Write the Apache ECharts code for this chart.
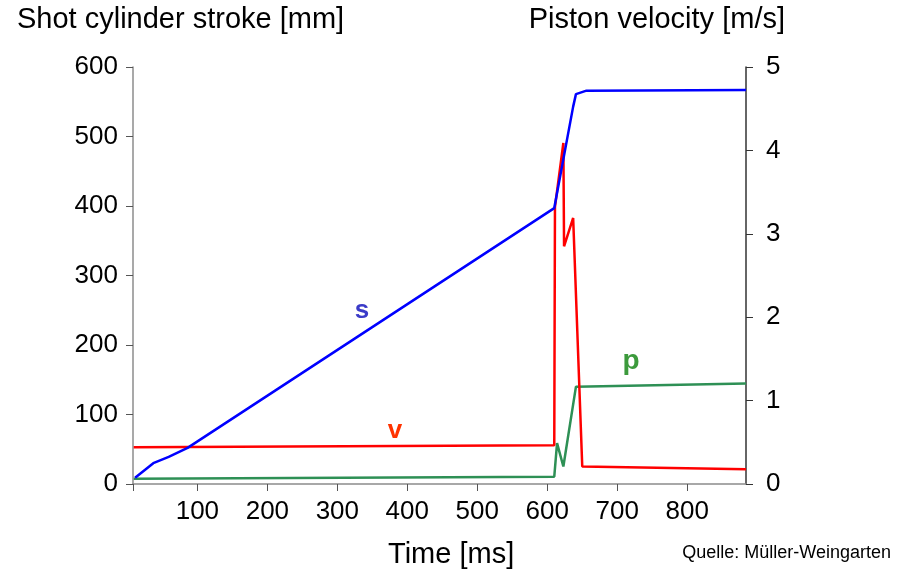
<!DOCTYPE html>
<html><head><meta charset="utf-8">
<script src="https://cdn.jsdelivr.net/npm/echarts@6/dist/echarts.min.js"></script>
<style>html,body{margin:0;padding:0;background:#fff}#c{width:906px;height:572px}</style>
</head><body><div id="c"></div>
<script>
// Stroke s [mm] (left axis)
const sTime   = [11, 37, 59, 86, 610, 637, 641, 656, 884];
const sValues = [9, 30, 39, 52, 397, 543, 561, 566, 567];
// Piston velocity v [m/s] (right axis)
const vTime   = [9, 610, 611, 623, 624, 637, 650, 884];
const vValues = [0.44, 0.465, 3.32, 4.09, 2.85, 3.19, 0.21, 0.176];
// Pressure p (drawn against right axis scale)
const pTime   = [9, 610, 614, 623, 641, 884];
const pValues = [0.064, 0.088, 0.49, 0.21, 1.167, 1.205];
const xTicks = [100, 200, 300, 400, 500, 600, 700, 800];
const leftTicks = [0, 100, 200, 300, 400, 500, 600];
const rightTicks = [0, 1, 2, 3, 4, 5];

const zip = (a, b) => a.map((t, i) => [t, b[i]]);
const FONT = 'Liberation Sans, Arial, sans-serif';
const chart = echarts.init(document.getElementById('c'));
chart.setOption({
  animation: false,
  backgroundColor: '#fff',
  grid: {left: 133, right: 160, top: 67, bottom: 88},
  xAxis: {
    type: 'value', min: 8, max: 884,
    axisLine: {lineStyle: {color: '#8c8c8c', width: 1.5}},
    axisTick: {show: true, length: 7, customValues: [8].concat(xTicks), lineStyle: {color: '#555'}},
    axisLabel: {customValues: xTicks, fontSize: 26, color: '#000', fontFamily: FONT, margin: 15},
    splitLine: {show: false}
  },
  yAxis: [{
    type: 'value', min: 0, max: 600, interval: 100, position: 'left',
    axisLine: {show: true, lineStyle: {color: '#8c8c8c', width: 1.5}},
    axisTick: {show: true, length: 7, lineStyle: {color: '#555'}},
    axisLabel: {fontSize: 26, color: '#000', fontFamily: FONT, margin: 15,
      customValues: leftTicks},
    splitLine: {show: false}
  }, {
    type: 'value', min: 0, max: 5, interval: 1, position: 'right',
    axisLine: {show: true, lineStyle: {color: '#333', width: 1.5}},
    axisTick: {show: true, length: 7, lineStyle: {color: '#333'}},
    axisLabel: {fontSize: 26, color: '#000', fontFamily: FONT, margin: 20,
      customValues: rightTicks},
    splitLine: {show: false}
  }],
  series: [
    {type: 'line', name: 'p', yAxisIndex: 1, data: zip(pTime, pValues), symbol: 'none',
     lineStyle: {color: '#2e9055', width: 2.5}},
    {type: 'line', name: 'v', yAxisIndex: 1, data: zip(vTime, vValues), symbol: 'none',
     lineStyle: {color: '#ff0000', width: 2.5}},
    {type: 'line', name: 's', yAxisIndex: 0, data: zip(sTime, sValues), symbol: 'none',
     lineStyle: {color: '#0000ff', width: 2.5}}
  ],
  graphic: [
    {type: 'text', left: 17, top: 5, style: {text: 'Shot cylinder stroke [mm]', font: '29px ' + FONT, fill: '#000'}},
    {type: 'text', right: 121, top: 5, style: {text: 'Piston velocity [m/s]', font: '29px ' + FONT, fill: '#000'}},
    {type: 'text', left: 388, top: 540, style: {text: 'Time [ms]', font: '29px ' + FONT, fill: '#000'}},
    {type: 'text', right: 15, top: 544, style: {text: 'Quelle: Müller-Weingarten', font: '18px ' + FONT, fill: '#000'}},
    {type: 'text', x: 362, y: 311, style: {text: 's', font: 'bold 26px ' + FONT, fill: '#3b3bc8', align: 'center', verticalAlign: 'middle'}},
    {type: 'text', x: 395, y: 431, style: {text: 'v', font: 'bold 26px ' + FONT, fill: '#ff3300', align: 'center', verticalAlign: 'middle'}},
    {type: 'text', x: 631, y: 361, style: {text: 'p', font: 'bold 28px ' + FONT, fill: '#3c9a3c', align: 'center', verticalAlign: 'middle'}}
  ]
});
</script></body></html>
